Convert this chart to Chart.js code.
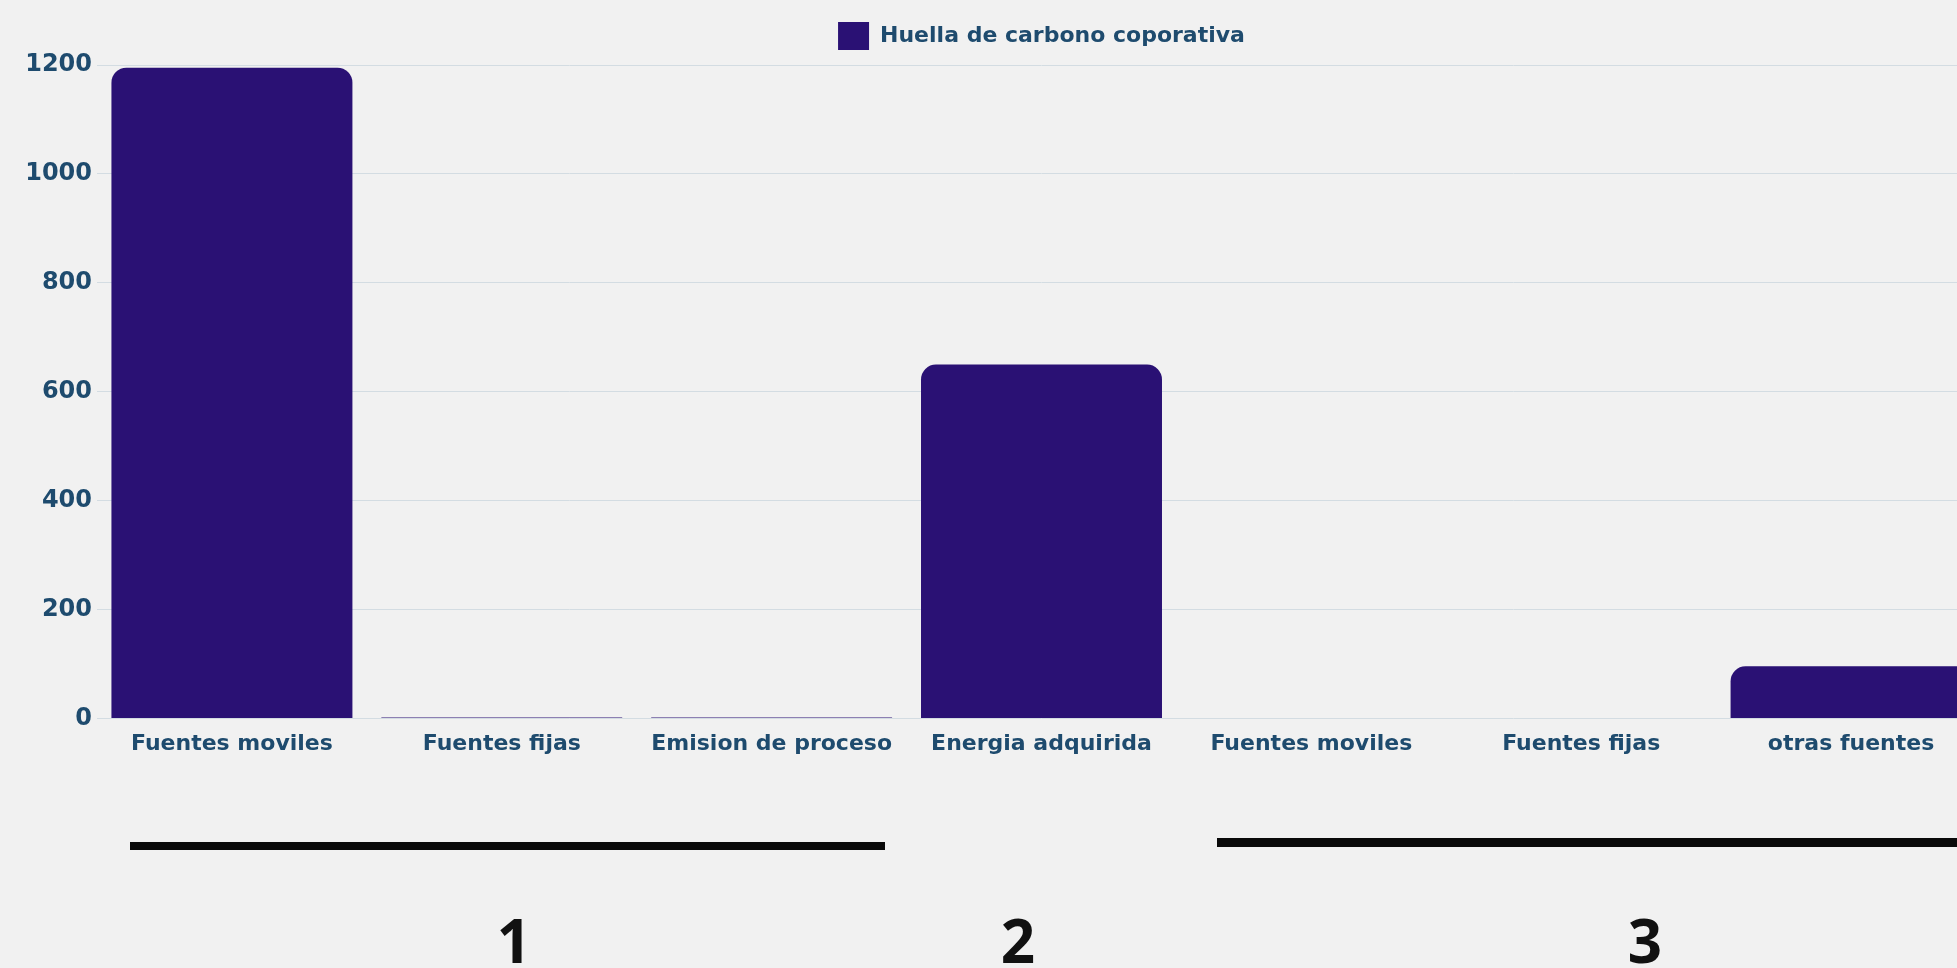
<!DOCTYPE html>
<html>
<head>
<meta charset="utf-8">
<script src="https://cdn.jsdelivr.net/npm/chart.js@4"></script>
<style>
    body {
        margin: 0;
        width: 1957px;
        height: 968px;
        overflow: hidden;
        background: #f1f1f1;
        font-family: "Open Sans", sans-serif;
    }
    .chart-box {
        position: absolute;
        left: 0;
        top: 0;
        width: 2077px;
        height: 790px;
    }
    .group-line {
        position: absolute;
        height: 8px;
        background: #0a0a0a;
    }
    .group-num {
        position: absolute;
        width: 80px;
        margin-left: -40px;
        text-align: center;
        font-size: 60px;
        font-weight: 700;
        line-height: 60px;
        color: #111;
    }
</style>
</head>
<body>
<div class="chart-box"><canvas id="myChart"></canvas></div>

<div class="group-line" style="left:130px; top:842px; width:755px;"></div>
<div class="group-line" style="left:1217px; top:838px; width:760px; height:9px;"></div>
<div class="group-num" style="left:514px; top:910px;">1</div>
<div class="group-num" style="left:1018px; top:910px;">2</div>
<div class="group-num" style="left:1645px; top:910px;">3</div>

<script>
const labels = [
    "Fuentes moviles",
    "Fuentes fijas",
    "Emision de proceso",
    "Energia adquirida",
    "Fuentes moviles",
    "Fuentes fijas",
    "otras fuentes",
];

const huella = [1195, 2, 2, 650, 0, 0, 96];

const yTicks = [0, 200, 400, 600, 800, 1000, 1200];

const textColor = "#1e4b6e";

// a bit more room between the legend and the plot
const legendGap = {
    id: "legendGap",
    beforeInit(chart) {
        const fit = chart.legend.fit;
        chart.legend.fit = function () {
            fit.bind(chart.legend)();
            this.height += 5;
        };
    },
};

const config = {
    type: "bar",
    data: {
        labels: labels,
        datasets: [
            {
                label: "Huella de carbono coporativa",
                data: huella,
                backgroundColor: "#2a1174",
                borderRadius: 15,
                barPercentage: 0.893,
                categoryPercentage: 1.0,
            },
        ],
    },
    options: {
        responsive: true,
        maintainAspectRatio: false,
        animation: false,
        layout: {
            padding: { top: 12, right: 91, bottom: 21, left: 0 },
        },
        plugins: {
            legend: {
                fullSize: false,
                labels: {
                    boxWidth: 31,
                    boxHeight: 28,
                    color: textColor,
                    font: { family: "DejaVu Sans", size: 22, weight: "bold" },
                    padding: 10,
                },
            },
            tooltip: { enabled: false },
        },
        scales: {
            x: {
                grid: { display: false, drawTicks: false },
                border: { display: false },
                ticks: {
                    color: textColor,
                    padding: 12,
                    maxRotation: 0,
                    font: { family: "DejaVu Sans", size: 22, weight: "bold" },
                },
            },
            y: {
                min: 0,
                max: 1200,
                afterBuildTicks: (axis) => {
                    axis.ticks = yTicks.map((v) => ({ value: v }));
                },
                afterFit: (axis) => {
                    axis.width = 97;
                },
                grid: { color: "#d3dce2", drawTicks: false },
                border: { display: false },
                ticks: {
                    color: textColor,
                    padding: 5,
                    font: { family: "DejaVu Sans", size: 24, weight: "bold" },
                    callback: (value) => String(value),
                },
            },
        },
    },
    plugins: [legendGap],
};

var myChart = new Chart(document.getElementById("myChart"), config);
</script>
</body>
</html>
